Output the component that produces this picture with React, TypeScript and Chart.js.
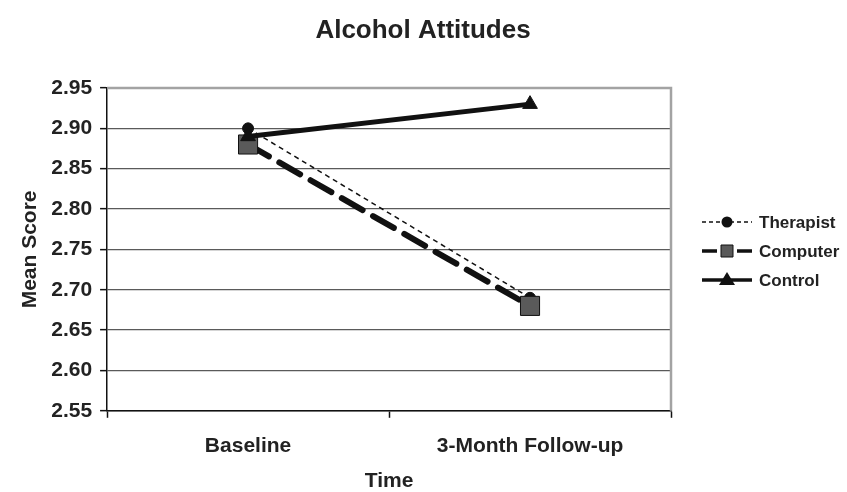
import React, { useEffect, useRef } from "react";
import { Chart, registerables } from "chart.js";

Chart.register(...registerables);

const titleText = "Alcohol Attitudes";
const categories = ["Baseline", "3-Month Follow-up"];
const therapist = [2.9, 2.69];
const computer = [2.88, 2.68];
const control = [2.89, 2.93];
const yTicks = [2.55, 2.6, 2.65, 2.7, 2.75, 2.8, 2.85, 2.9, 2.95];

const FONT = "'Liberation Sans', Arial, sans-serif";
const TXT = "#222";

const frameAndLegend = {
  id: "frameAndLegend",
  afterDatasetsDraw(chart: any) {
    const { ctx, chartArea } = chart;
    ctx.save();
    ctx.strokeStyle = "#a3a3a3";
    ctx.lineWidth = 2.5;
    ctx.beginPath();
    ctx.moveTo(chartArea.left, chartArea.top);
    ctx.lineTo(chartArea.right, chartArea.top);
    ctx.lineTo(chartArea.right, chartArea.bottom);
    ctx.stroke();
    ctx.restore();
  },
  afterDraw(chart: any) {
    const { ctx } = chart;
    ctx.save();
    ctx.fillStyle = TXT;
    ctx.font = `bold 26px ${FONT}`;
    ctx.textAlign = "center";
    ctx.textBaseline = "middle";
    ctx.fillText(titleText, 423, 31);

    const x0 = 702;
    const x1 = 752;
    const xm = 727;
    const rows = [222, 251, 280];
    chart.data.datasets.forEach((ds: any, i: number) => {
      const y = rows[i];
      ctx.strokeStyle = "#111";
      ctx.fillStyle = "#111";
      ctx.lineWidth = i === 0 ? 1.5 : 3.5;
      ctx.setLineDash(i === 0 ? [4, 3] : []);
      ctx.beginPath();
      if (i === 1) {
        ctx.moveTo(x0, y);
        ctx.lineTo(xm - 10, y);
        ctx.moveTo(xm + 10, y);
        ctx.lineTo(x1, y);
      } else {
        ctx.moveTo(x0, y);
        ctx.lineTo(x1, y);
      }
      ctx.stroke();
      ctx.setLineDash([]);
      ctx.beginPath();
      if (i === 0) {
        ctx.arc(xm, y, 5.5, 0, Math.PI * 2);
        ctx.fill();
      } else if (i === 1) {
        ctx.fillStyle = "#5a5a5a";
        ctx.strokeStyle = "#111";
        ctx.lineWidth = 1;
        ctx.rect(xm - 6, y - 6, 12, 12);
        ctx.fill();
        ctx.stroke();
      } else {
        ctx.moveTo(xm, y - 8);
        ctx.lineTo(xm + 8, y + 5);
        ctx.lineTo(xm - 8, y + 5);
        ctx.closePath();
        ctx.fill();
      }
      ctx.fillStyle = TXT;
      ctx.font = `bold 17px ${FONT}`;
      ctx.textAlign = "left";
      ctx.textBaseline = "middle";
      ctx.fillText(ds.label, 759, y + 1);
    });
    ctx.restore();
  },
};

export default function App() {
  const ref = useRef<HTMLCanvasElement>(null);
  useEffect(() => {
    if (!ref.current) return;
    const chart = new Chart(ref.current, {
      type: "line",
      data: {
        labels: categories,
        datasets: [
          {
            label: "Therapist",
            data: therapist,
            borderColor: "#111",
            backgroundColor: "#111",
            borderWidth: 1.5,
            borderDash: [5, 4],
            pointStyle: "circle",
            pointRadius: 5.5,
            pointBackgroundColor: "#111",
            pointBorderColor: "#111",
            pointBorderWidth: 1,
            order: 2,
          },
          {
            label: "Computer",
            data: computer,
            borderColor: "#111",
            backgroundColor: "#5a5a5a",
            borderWidth: 6,
            borderDash: [24, 12],
            borderCapStyle: "round",
            pointStyle: "rect",
            pointRadius: 13.5,
            pointBackgroundColor: "#5a5a5a",
            pointBorderColor: "#111",
            pointBorderWidth: 1,
            order: 1,
          },
          {
            label: "Control",
            data: control,
            borderColor: "#111",
            backgroundColor: "#111",
            borderWidth: 5,
            pointStyle: "triangle",
            pointRadius: 8.5,
            pointBackgroundColor: "#111",
            pointBorderColor: "#111",
            pointBorderWidth: 1,
            order: 0,
          },
        ],
      },
      options: {
        animation: false,
        responsive: false,
        layout: { padding: { left: 12, right: 176, top: 88, bottom: 0 } },
        plugins: {
          legend: { display: false },
          tooltip: { enabled: false },
          title: { display: false },
        },
        scales: {
          x: {
            type: "category",
            offset: true,
            grid: {
              offset: true,
              drawOnChartArea: false,
              drawTicks: true,
              tickLength: 7,
              tickColor: "#111",
              tickWidth: 1.5,
            },
            border: { color: "#111", width: 1.5 },
            ticks: {
              color: TXT,
              font: { family: FONT, size: 21, weight: "bold" },
              padding: 16,
              maxRotation: 0,
            },
            title: {
              display: true,
              text: "Time",
              color: TXT,
              font: { family: FONT, size: 21, weight: "bold", lineHeight: 1.0 },
              padding: { top: -4, bottom: 0 },
            },
          },
          y: {
            min: 2.55,
            max: 2.95,
            afterBuildTicks: (axis: any) => {
              axis.ticks = yTicks.map((v) => ({ value: v }));
            },
            grid: {
              color: (c: any) =>
                c.tick && Math.abs(c.tick.value - 2.95) < 1e-6 ? "#a3a3a3" : "#5a5a5a",
              lineWidth: 1.3,
              drawTicks: true,
              tickLength: 7,
              tickColor: "#111",
              tickWidth: 1.5,
            },
            border: { color: "#111", width: 1.5 },
            ticks: {
              color: TXT,
              font: { family: FONT, size: 21, weight: "bold" },
              padding: 8,
              callback: (v: any) => Number(v).toFixed(2),
            },
            title: {
              display: true,
              text: "Mean Score",
              color: TXT,
              font: { family: FONT, size: 21, weight: "bold" },
              padding: { top: 6, bottom: 0 },
            },
          },
        },
      },
      plugins: [frameAndLegend],
    });
    return () => chart.destroy();
  }, []);
  return (
    <div style={{ position: "fixed", left: 0, top: 0, width: 847, height: 492, background: "#fff" }}>
      <canvas ref={ref} width={847} height={492} style={{ width: 847, height: 492 }} />
    </div>
  );
}
